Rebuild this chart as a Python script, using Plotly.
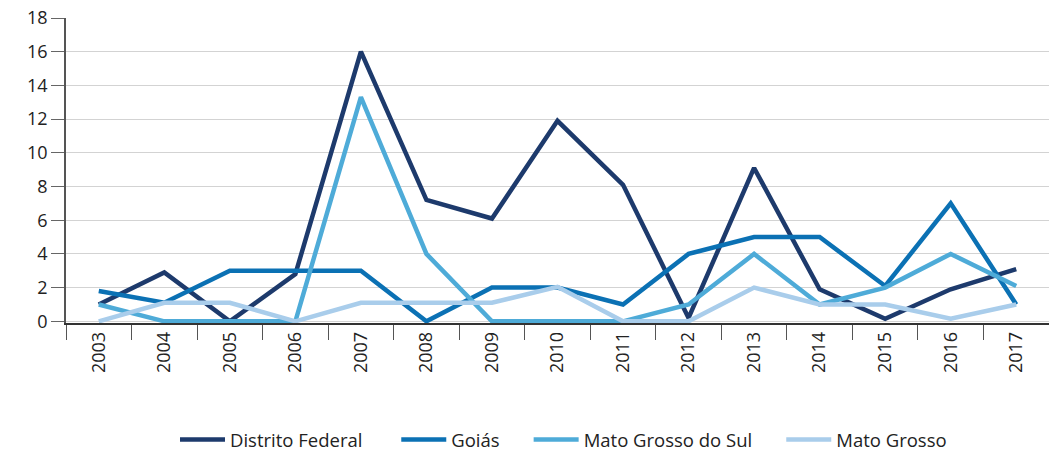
import plotly.graph_objects as go

years = [str(y) for y in range(2003, 2018)]
distrito_federal = [1, 2.9, 0, 2.8, 16, 7.2, 6.1, 11.9, 8.1, 0.2, 9.1, 1.9, 0.15, 1.9, 3.1]
goias = [1.8, 1.1, 3, 3, 3, 0, 2, 2, 1, 4, 5, 5, 2.1, 7, 1]
mato_grosso_do_sul = [1, 0, 0, 0, 13.3, 4, 0, 0, 0, 1, 4, 1, 2, 4, 2.1]
mato_grosso = [0, 1.1, 1.1, 0, 1.1, 1.1, 1.1, 2.05, 0, 0, 2, 1, 1, 0.15, 1]

series = [
    ("Distrito Federal", distrito_federal, "#1d3a6c"),
    ("Goiás", goias, "#0b71b4"),
    ("Mato Grosso do Sul", mato_grosso_do_sul, "#4eabd8"),
    ("Mato Grosso", mato_grosso, "#a9cdeb"),
]
# extra non-breaking space after each legend label to widen the gap between entries
legend_pad = [6, 5, 5, 0]

W, H = 1049, 453
ML, MR, MT, MB = 66, 0, 18, 130

fig = go.Figure()
for (name, vals, color), pad in zip(series, legend_pad):
    fig.add_trace(go.Scatter(x=years, y=vals, name=name + "\u00a0" * pad, mode="lines",
                             line=dict(color=color, width=4.5)))

font = "Open Sans"
fig.update_layout(
    width=W, height=H,
    margin=dict(l=ML, r=MR, t=MT, b=MB, autoexpand=False),
    plot_bgcolor="white", paper_bgcolor="white",
    font=dict(family=font, size=18, color="#222222"),
    showlegend=True,
    legend=dict(orientation="h", xref="paper", x=(175 - ML) / (W - ML - MR), xanchor="left",
                yref="container", y=(H - 440) / H, yanchor="middle",
                font=dict(size=18.5, color="#222222"), itemwidth=45,
                bgcolor="rgba(0,0,0,0)"),
    xaxis=dict(type="category", range=[-0.5, len(years) - 0.5], tickson="boundaries",
               ticks="outside", ticklen=15, tickcolor="#555555", tickwidth=1,
               showline=True, linecolor="#333333", linewidth=1.5, showgrid=False,
               tickangle=-90, automargin=False, tickfont=dict(size=18, color="#222222")),
    yaxis=dict(range=[-0.1, 18], tickvals=list(range(0, 19, 2)), ticks="outside",
               ticklen=13, tickcolor="#666666", showline=True, linecolor="#555555",
               linewidth=1.5, gridcolor="#d3d3d3", gridwidth=1.2, zeroline=False,
               automargin=False, tickfont=dict(size=18, color="#222222")),
)
fig.write_html("out.html", config={"displayModeBar": False},
               post_script="document.body.style.margin='0';")
